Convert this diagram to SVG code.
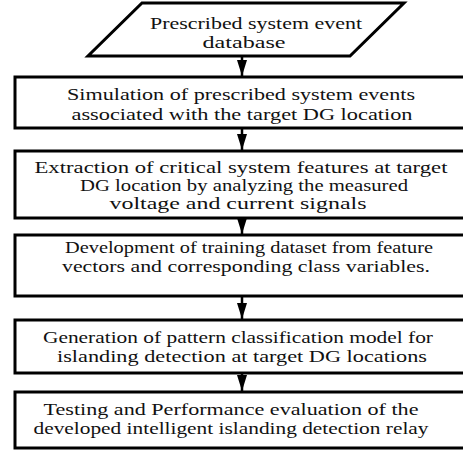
<svg xmlns="http://www.w3.org/2000/svg" width="463" height="460" viewBox="0 0 463 460">
<style>
.b{fill:#fff;stroke:#000;stroke-width:3}
.t{font-size:17px;fill:#111;text-anchor:middle}
.c line{stroke:#000;stroke-width:2.5}
</style>
<defs>
<marker id="ah" viewBox="0 0 16 10" markerWidth="16" markerHeight="10" refX="16" refY="5" orient="auto" markerUnits="userSpaceOnUse">
<path d="M0,0 L16,5 L0,10 Z" fill="#000"/>
</marker>
</defs>
<rect width="463" height="460" fill="#fff"/>
<g id="n0">
<polygon class="b" points="142,3 404,3 350,56 88,56"/>
<text class="t" font-family="Liberation Serif" x="256" y="29" textLength="212" lengthAdjust="spacingAndGlyphs">Prescribed system event</text>
<text class="t" font-family="Liberation Serif" x="244" y="48" textLength="83" lengthAdjust="spacingAndGlyphs">database</text>
</g>
<g id="n1">
<rect class="b" x="15" y="77" width="460" height="51"/>
<text class="t" font-family="Liberation Serif" x="241" y="100" textLength="348" lengthAdjust="spacingAndGlyphs">Simulation of prescribed system events</text>
<text class="t" font-family="Liberation Serif" x="242" y="120" textLength="341" lengthAdjust="spacingAndGlyphs">associated with the target DG location</text>
</g>
<g id="n2">
<rect class="b" x="15" y="151" width="460" height="67"/>
<text class="t" font-family="Liberation Serif" x="241" y="173" textLength="413" lengthAdjust="spacingAndGlyphs">Extraction of critical system features at target</text>
<text class="t" font-family="Liberation Serif" x="244" y="191" textLength="328" lengthAdjust="spacingAndGlyphs">DG location by analyzing the measured</text>
<text class="t" font-family="Liberation Serif" x="238" y="209" textLength="257" lengthAdjust="spacingAndGlyphs">voltage and current signals</text>
</g>
<g id="n3">
<rect class="b" x="15" y="235" width="460" height="61"/>
<text class="t" font-family="Liberation Serif" x="249" y="253" textLength="368" lengthAdjust="spacingAndGlyphs">Development of training dataset from feature</text>
<text class="t" font-family="Liberation Serif" x="246" y="272" textLength="368" lengthAdjust="spacingAndGlyphs">vectors and corresponding class variables.</text>
</g>
<g id="n4">
<rect class="b" x="15" y="320" width="460" height="53"/>
<text class="t" font-family="Liberation Serif" x="238" y="343" textLength="390" lengthAdjust="spacingAndGlyphs">Generation of pattern classification model for</text>
<text class="t" font-family="Liberation Serif" x="242" y="362" textLength="370" lengthAdjust="spacingAndGlyphs">islanding detection at target DG locations</text>
</g>
<g id="n5">
<rect class="b" x="15" y="392" width="460" height="56"/>
<text class="t" font-family="Liberation Serif" x="231" y="415" textLength="375" lengthAdjust="spacingAndGlyphs">Testing and Performance evaluation of the</text>
<text class="t" font-family="Liberation Serif" x="231" y="434" textLength="395" lengthAdjust="spacingAndGlyphs">developed intelligent islanding detection relay</text>
</g>
<g class="c" id="connectors">
<line x1="242" y1="57" x2="242" y2="76" marker-end="url(#ah)"/>
<line x1="242" y1="129" x2="242" y2="150" marker-end="url(#ah)"/>
<line x1="242" y1="219" x2="242" y2="234" marker-end="url(#ah)"/>
<line x1="242" y1="297" x2="242" y2="319" marker-end="url(#ah)"/>
<line x1="242" y1="374" x2="242" y2="391" marker-end="url(#ah)"/>
</g>
</svg>
